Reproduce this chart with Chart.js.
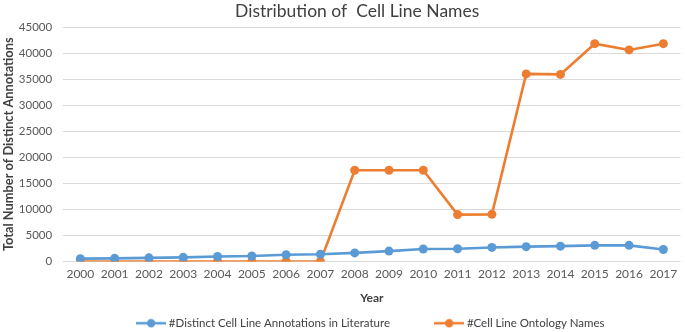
<!DOCTYPE html>
<html><head><meta charset="utf-8">
<script src="https://cdn.jsdelivr.net/npm/chart.js@4"></script>
<style>html,body{margin:0;padding:0;background:#fff}#wrap{width:685px;height:332px}</style>
</head><body><div id="wrap"><canvas id="c" width="685" height="332"></canvas></div>
<script>
const years = ['2000','2001','2002','2003','2004','2005','2006','2007','2008','2009','2010','2011','2012','2013','2014','2015','2016','2017'];
const distinctAnnotations = [550,600,700,800,950,1050,1300,1400,1650,2000,2400,2450,2700,2850,2950,3100,3100,2300];
const ontologyNames = [0,0,0,0,0,0,0,0,17500,17500,17500,9000,9050,36000,35900,41800,40600,41800];
const yTicks = [0,5000,10000,15000,20000,25000,30000,35000,40000,45000];
const seriesNames = ['#Distinct Cell Line Annotations in Literature','#Cell Line Ontology Names'];
const chartTitle = 'Distribution of  Cell Line Names';

function marker(color){
  const cv=document.createElement('canvas');cv.width=30;cv.height=10;
  const g=cv.getContext('2d');g.strokeStyle=color;g.lineWidth=2.5;
  g.beginPath();g.moveTo(0,5);g.lineTo(30,5);g.stroke();
  g.fillStyle=color;g.beginPath();g.arc(15,5,4.2,0,Math.PI*2);g.fill();
  return cv;
}
const NB='\u00A0';
const gapAfter=[NB.repeat(16),''];
const FONT='Lato';
new Chart(document.getElementById('c'),{
  type:'line',
  data:{labels:years,datasets:[
    {label:seriesNames[0],data:distinctAnnotations,borderColor:'#5B9BD5',backgroundColor:'#5B9BD5',borderWidth:2.6,pointRadius:4.5,pointBackgroundColor:'#5B9BD5',pointBorderWidth:0,tension:0},
    {label:seriesNames[1],data:ontologyNames,borderColor:'#ED7D31',backgroundColor:'#ED7D31',borderWidth:2.6,pointRadius:4.5,pointBackgroundColor:'#ED7D31',pointBorderWidth:0,tension:0}
  ]},
  options:{
    responsive:false,animation:false,
    layout:{padding:{left:0,right:2,top:0,bottom:-7}},
    plugins:{
      title:{display:true,text:NB.repeat(7)+chartTitle,color:'#404040',font:{family:FONT,size:17.5,weight:'normal'},padding:{top:1,bottom:5}},
      legend:{position:'bottom',fullSize:false,labels:{color:'#404040',font:{family:FONT,size:11.5},usePointStyle:true,pointStyleWidth:24,boxHeight:10,padding:0,
        generateLabels:(chart)=>chart.data.datasets.map((d,i)=>({text:d.label+gapAfter[i],pointStyle:marker(d.borderColor),fillStyle:d.borderColor,strokeStyle:d.borderColor,lineWidth:0,datasetIndex:i,fontColor:'#404040'}))}},
      tooltip:{enabled:false}
    },
    scales:{
      x:{offset:true,grid:{display:false,drawTicks:false},border:{display:false},ticks:{color:'#595959',font:{family:FONT,size:12},maxRotation:0,autoSkip:false,padding:5},
         title:{display:true,text:'Year',color:'#404040',font:{family:FONT,size:12,weight:'bold'},padding:{top:5.4,bottom:11.8}}},
      y:{min:0,max:45000,afterBuildTicks:(s)=>{s.ticks=yTicks.map(v=>({value:v}));},grid:{color:'#d9d9d9',drawTicks:false},border:{display:false},
         ticks:{color:'#595959',font:{family:FONT,size:11.5},padding:11,callback:v=>String(v)},
         title:{display:true,text:'Total Number of Distinct Annotations',color:'#404040',font:{family:FONT,size:12.8,weight:'bold'},padding:{top:1,bottom:-8.5}}}
    }
  }
});
</script></body></html>
